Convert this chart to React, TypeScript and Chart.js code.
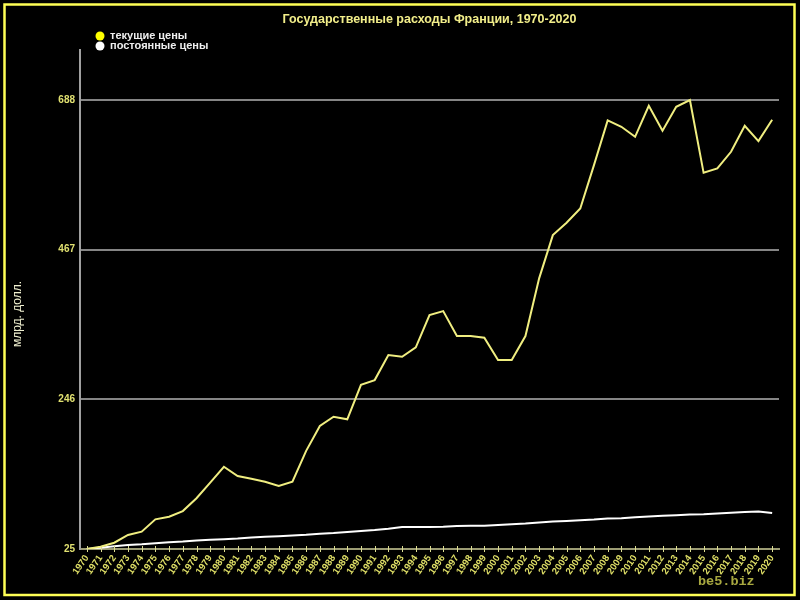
import React, { useEffect, useRef } from "react";
import { Chart, registerables } from "chart.js";

Chart.register(...registerables);

const years = [
  "1970", "1971", "1972", "1973", "1974", "1975", "1976", "1977", "1978", "1979",
  "1980", "1981", "1982", "1983", "1984", "1985", "1986", "1987", "1988", "1989",
  "1990", "1991", "1992", "1993", "1994", "1995", "1996", "1997", "1998", "1999",
  "2000", "2001", "2002", "2003", "2004", "2005", "2006", "2007", "2008", "2009",
  "2010", "2011", "2012", "2013", "2014", "2015", "2016", "2017", "2018", "2019",
  "2020",
];

const currentPrices = [
  25, 28.4, 34.3, 45.7, 50.6, 68.8, 72.7, 81, 100, 123,
  146.5, 132.8, 128.8, 124.4, 118, 124.4, 170, 206.6, 220.4, 216.5,
  267.4, 274.5, 311.5, 309, 322.8, 370.5, 376.4, 339.5, 339.5, 337,
  304, 304, 339.5, 424.7, 488.6, 506.8, 528, 592, 658, 648.6,
  633.8, 679.6, 642.7, 678, 688, 580.6, 587, 611.7, 650, 627.5,
  659,
];

const constantPrices = [
  25, 27, 29, 31, 32, 33.5, 35, 36, 37.5, 38.5,
  39.5, 40.5, 42, 43, 44, 45, 46, 47.5, 48.5, 50,
  51.5, 53, 55, 57.5, 57.5, 57.5, 57.8, 59, 59.5, 59.5,
  60.5, 61.5, 62.5, 64, 65.5, 66.5, 67.5, 68.5, 70, 70.5,
  72, 73, 74, 75, 76, 76.5, 77.5, 78.5, 79.5, 80.5,
  78,
];

const yTicks = [25, 246, 467, 688];
const titleText = "Государственные расходы Франции, 1970-2020";
const seriesNames = ["текущие цены", "постоянные цены"];
const yAxisTitle = "млрд. долл.";
const watermark = "be5.biz";

const YELLOW_LINE = "#f0ee80";
const FONT = "'Liberation Sans', Arial, sans-serif";

const decorPlugin = {
  id: "decor",
  beforeDraw(chart: any) {
    const { ctx, width, height } = chart;
    ctx.save();
    ctx.fillStyle = "#000000";
    ctx.fillRect(0, 0, width, height);
    ctx.strokeStyle = "#ffff55";
    ctx.lineWidth = 2.5;
    ctx.strokeRect(4.5, 4.5, 790, 590.5);
    ctx.restore();
  },
  afterDraw(chart: any) {
    const { ctx, chartArea } = chart;
    const xs = chart.scales.x;
    ctx.save();
    // x tick marks crossing the axis
    ctx.strokeStyle = "#dcdc90";
    ctx.lineWidth = 1;
    for (let i = 0; i < xs.ticks.length; i++) {
      const px = Math.round(xs.getPixelForTick(i)) + 0.5;
      ctx.beginPath();
      ctx.moveTo(px, chartArea.bottom - 3);
      ctx.lineTo(px, chartArea.bottom + 3);
      ctx.stroke();
    }
    // title
    ctx.fillStyle = "#f2ee8a";
    ctx.font = `bold 12.5px ${FONT}`;
    ctx.textAlign = "center";
    ctx.textBaseline = "middle";
    ctx.fillText(titleText, (chartArea.left + chartArea.right) / 2, 20);
    // legend
    const dotColors = ["#ffff00", "#ffffff"];
    const legendY = [36, 46];
    ctx.font = `bold 11px ${FONT}`;
    ctx.textAlign = "left";
    for (let i = 0; i < seriesNames.length; i++) {
      ctx.fillStyle = dotColors[i];
      ctx.beginPath();
      ctx.arc(100, legendY[i], 4.5, 0, Math.PI * 2);
      ctx.fill();
      ctx.fillStyle = "#eeeeee";
      ctx.fillText(seriesNames[i], 110, legendY[i]);
    }
    // y axis title
    ctx.save();
    ctx.translate(18, 314);
    ctx.rotate(-Math.PI / 2);
    ctx.fillStyle = "#f0f0d0";
    ctx.font = `12px ${FONT}`;
    ctx.textAlign = "center";
    ctx.textBaseline = "middle";
    ctx.fillText(yAxisTitle, 0, 0);
    ctx.restore();
    // watermark
    ctx.fillStyle = "#a8a840";
    ctx.font = "bold 13.5px 'Liberation Mono', 'Courier New', monospace";
    ctx.textAlign = "left";
    ctx.textBaseline = "middle";
    ctx.fillText(watermark, 698, 582);
    ctx.restore();
  },
};

export default function App() {
  const canvasRef = useRef<HTMLCanvasElement | null>(null);

  useEffect(() => {
    const canvas = canvasRef.current;
    if (!canvas) return;
    const chart = new Chart(canvas, {
      type: "line",
      data: {
        labels: years,
        datasets: [
          {
            label: seriesNames[0],
            data: currentPrices,
            borderColor: YELLOW_LINE,
            borderWidth: 2,
            pointRadius: 0,
            tension: 0,
            fill: false,
          },
          {
            label: seriesNames[1],
            data: constantPrices,
            borderColor: "#ffffff",
            borderWidth: 2,
            pointRadius: 0,
            tension: 0,
            fill: false,
          },
        ],
      },
      options: {
        responsive: false,
        animation: false,
        devicePixelRatio: 1,
        layout: { padding: { top: 50, right: 21, bottom: 0, left: 0 } },
        plugins: {
          legend: { display: false },
          title: { display: false },
          tooltip: { enabled: false },
        },
        scales: {
          x: {
            type: "category",
            offset: true,
            afterFit: (s: any) => {
              s.height = 51;
            },
            grid: { display: false, drawTicks: false },
            border: { display: true, color: "#9c9c74", width: 2 },
            ticks: {
              autoSkip: false,
              maxRotation: 55,
              minRotation: 55,
              padding: 4,
              color: "#dede66",
              font: { family: FONT, size: 9.5, weight: "bold" },
            },
          },
          y: {
            type: "linear",
            min: 25,
            max: 762,
            afterBuildTicks: (s: any) => {
              s.ticks = yTicks.map((v) => ({ value: v }));
            },
            afterFit: (s: any) => {
              s.width = 80;
            },
            grid: { color: "#858585", lineWidth: 2, drawTicks: false },
            border: { display: true, color: "#a0a0a0", width: 2 },
            ticks: {
              padding: 5,
              color: "#e0e070",
              font: { family: FONT, size: 10, weight: "bold" },
            },
          },
        },
      },
      plugins: [decorPlugin],
    });
    return () => chart.destroy();
  }, []);

  return (
    <div style={{ position: "fixed", left: 0, top: 0, width: 800, height: 600, background: "#000" }}>
      <canvas ref={canvasRef} width={800} height={600} style={{ width: 800, height: 600, display: "block" }} />
    </div>
  );
}
